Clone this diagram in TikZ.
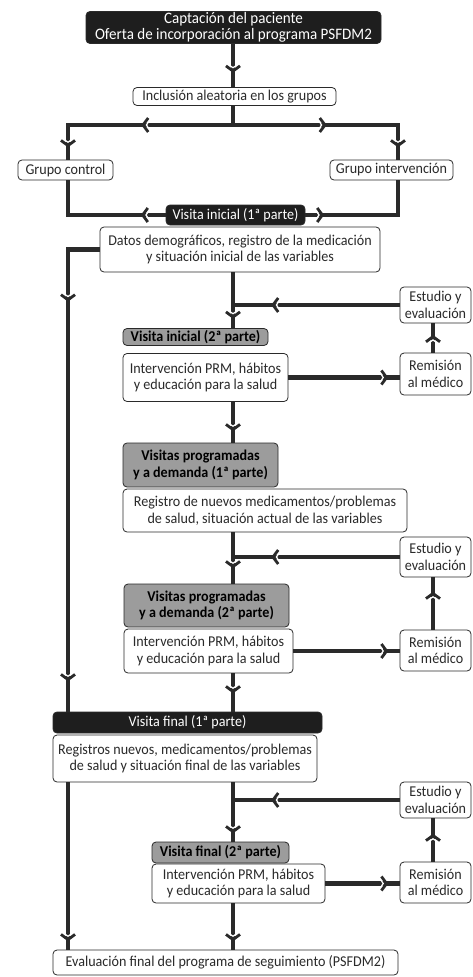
\documentclass[tikz,border=0pt]{standalone}
\usepackage{fontspec}
\setmainfont{Carlito}[FakeStretch=0.94]
\usetikzlibrary{decorations.markings}
\definecolor{ink}{HTML}{2A2A2A}
\definecolor{boxblack}{HTML}{1E1E1E}
\definecolor{boxgray}{HTML}{9C9C9C}
\newcommand\mychev{%
  \draw[white,line width=1.3pt,line join=miter] (-8pt,7pt) -- (-3.4pt,0pt) -- (-8pt,-7pt);
  \draw[ink,line width=2.8pt,line cap=butt,line join=miter,miter limit=10] (-5.2pt,7pt) -- (0pt,0pt) -- (-5.2pt,-7pt);}
\tikzset{
  x=1pt,y=-1pt,
  base/.style={rounded corners=4pt, draw=ink, line width=0.8pt, inner sep=0pt, align=center,
    font=\fontsize{15}{16.5}\selectfont, text=ink},
  wbox/.style={base, fill=white},
  bbox/.style={base, fill=boxblack, text=white},
  gbox/.style={base, fill=boxgray, text=black, font=\fontsize{15}{16.5}\selectfont\bfseries},
  sz/.style 2 args={minimum width=#1, minimum height=#2},
  flow/.style={draw=ink, line width=4.6pt},
  chevat/.style={postaction={decorate,decoration={markings,mark=at position #1 with {\mychev}}}},
}
\begin{document}
\begin{tikzpicture}
\useasboundingbox (0,0) rectangle (472,977);
\fill[white] (0,0) rectangle (472,977);

% nodes
\node[bbox, sz={295pt}{32pt}, font=\fontsize{16}{15.5}\selectfont] (cap) at (233.5,27.5) {Captación del paciente\\Oferta de incorporación al programa PSFDM2};
\node[wbox, sz={203pt}{18pt}] (inc) at (234.5,96.5) {Inclusión aleatoria en los grupos};
\node[wbox, sz={95pt}{20pt}] (gc) at (65.5,170) {Grupo control};
\node[wbox, sz={123pt}{20pt}] (gi) at (391.5,170) {Grupo intervención};
\node[bbox, sz={139pt}{20pt}] (vi1) at (235.5,215) {Visita inicial (1ª parte)};
\node[wbox, sz={280pt}{45pt}] (datos) at (240,249.5) {Datos demográficos, registro de la medicación\\y situación inicial de las variables};
\node[wbox, sz={71pt}{36pt}] (est1) at (435.5,305) {Estudio y\\evaluación};
\node[gbox, sz={145pt}{17pt}] (vi2) at (195.5,337) {Visita inicial (2ª parte)};
\node[wbox, sz={165pt}{48pt}] (int1) at (205.5,377.5) {Intervención PRM, hábitos\\y educación para la salud};
\node[wbox, sz={71pt}{42pt}] (rem1) at (435.5,374) {Remisión\\al médico};
\node[gbox, sz={155pt}{44pt}] (vp1) at (200.5,465) {Visitas programadas\\y a demanda (1ª parte)};
\node[wbox, sz={284pt}{43pt}] (reg) at (265,510.5) {Registro de nuevos medicamentos/problemas\\de salud, situación actual de las variables};
\node[wbox, sz={71pt}{40pt}] (est2) at (435.5,557) {Estudio y\\evaluación};
\node[gbox, sz={165pt}{43pt}] (vp2) at (206.5,605.5) {Visitas programadas\\y a demanda (2ª parte)};
\node[wbox, sz={169pt}{44pt}] (int2) at (208.5,651) {Intervención PRM, hábitos\\y educación para la salud};
\node[wbox, sz={71pt}{41pt}] (rem2) at (435.5,650.5) {Remisión\\al médico};
\node[bbox, sz={269pt}{21pt}] (vf1) at (187.5,722.5) {Visita final (1ª parte)};
\node[wbox, sz={264pt}{47pt}] (regf) at (185,758.5) {Registros nuevos, medicamentos/problemas\\de salud y situación final de las variables};
\node[wbox, sz={71pt}{36pt}] (est3) at (435.5,800) {Estudio y\\evaluación};
\node[gbox, sz={137pt}{21pt}] (vf2) at (220.5,852.5) {Visita final (2ª parte)};
\node[wbox, sz={173pt}{39pt}] (int3) at (238.5,883.5) {Intervención PRM, hábitos\\y educación para la salud};
\node[wbox, sz={71pt}{41pt}] (rem3) at (435.5,882.5) {Remisión\\al médico};
\node[wbox, sz={345pt}{25pt}] (eval) at (225.5,962.5) {Evaluación final del programa de seguimiento (PSFDM2)};

% reference columns
\coordinate (xL) at (68,0);
\coordinate (xM) at (233,0);
\coordinate (xR) at (398,0);
\coordinate (xE) at (433,0);
\coordinate (j0) at (233,125);

% connectors
\draw[flow,chevat=-16pt] (xM |- cap.south) -- (xM |- inc.north);
\draw[flow] (xM |- inc.south) -- (j0);
\draw[flow,chevat=90pt,chevat=-14pt] (j0) -| (xL |- gc.north);
\draw[flow,chevat=92pt,chevat=-14pt] (j0) -| (xR |- gi.north);
\draw[flow,chevat=23pt] (vi1.west) -| (xL |- gc.south);
\draw[flow,chevat=17pt] (vi1.east) -| (xR |- gi.south);
\draw[flow,chevat=82pt,chevat=-32pt] (datos.west) -| (xL |- vf1.north);

\draw[flow,chevat=-11pt] (xM |- datos.south) -- (xM |- vi2.north);
\draw[flow,chevat=-40pt] (est1.west) -- (xM |- est1.west);
\draw[flow,chevat=-13pt] (int1.east) -- (int1.east -| rem1.west);
\draw[flow,chevat=16pt] (xE |- rem1.north) -- (xE |- est1.south);
\draw[flow,chevat=-13pt] (xM |- int1.south) -- (xM |- vp1.north);

\draw[flow,chevat=-17pt] (xM |- reg.south) -- (xM |- vp2.north);
\draw[flow,chevat=-40pt] (est2.west) -- (xM |- est2.west);
\draw[flow,chevat=-13pt] (int2.east) -- (int2.east -| rem2.west);
\draw[flow,chevat=-16pt] (xE |- rem2.north) -- (xE |- est2.south);
\draw[flow,chevat=-20pt] (xM |- int2.south) -- (xM |- vf1.north);

\draw[flow,chevat=-10pt] (xL |- regf.south) -- (xL |- eval.north);
\draw[flow,chevat=-10pt] (xM |- regf.south) -- (xM |- vf2.north);
\draw[flow,chevat=-40pt] (est3.west) -- (xM |- est3.west);
\draw[flow,chevat=-13pt] (int3.east) -- (int3.east -| rem3.west);
\draw[flow,chevat=-17pt] (xE |- rem3.north) -- (xE |- est3.south);
\draw[flow,chevat=-10pt] (xM |- int3.south) -- (xM |- eval.north);
\end{tikzpicture}
\end{document}
